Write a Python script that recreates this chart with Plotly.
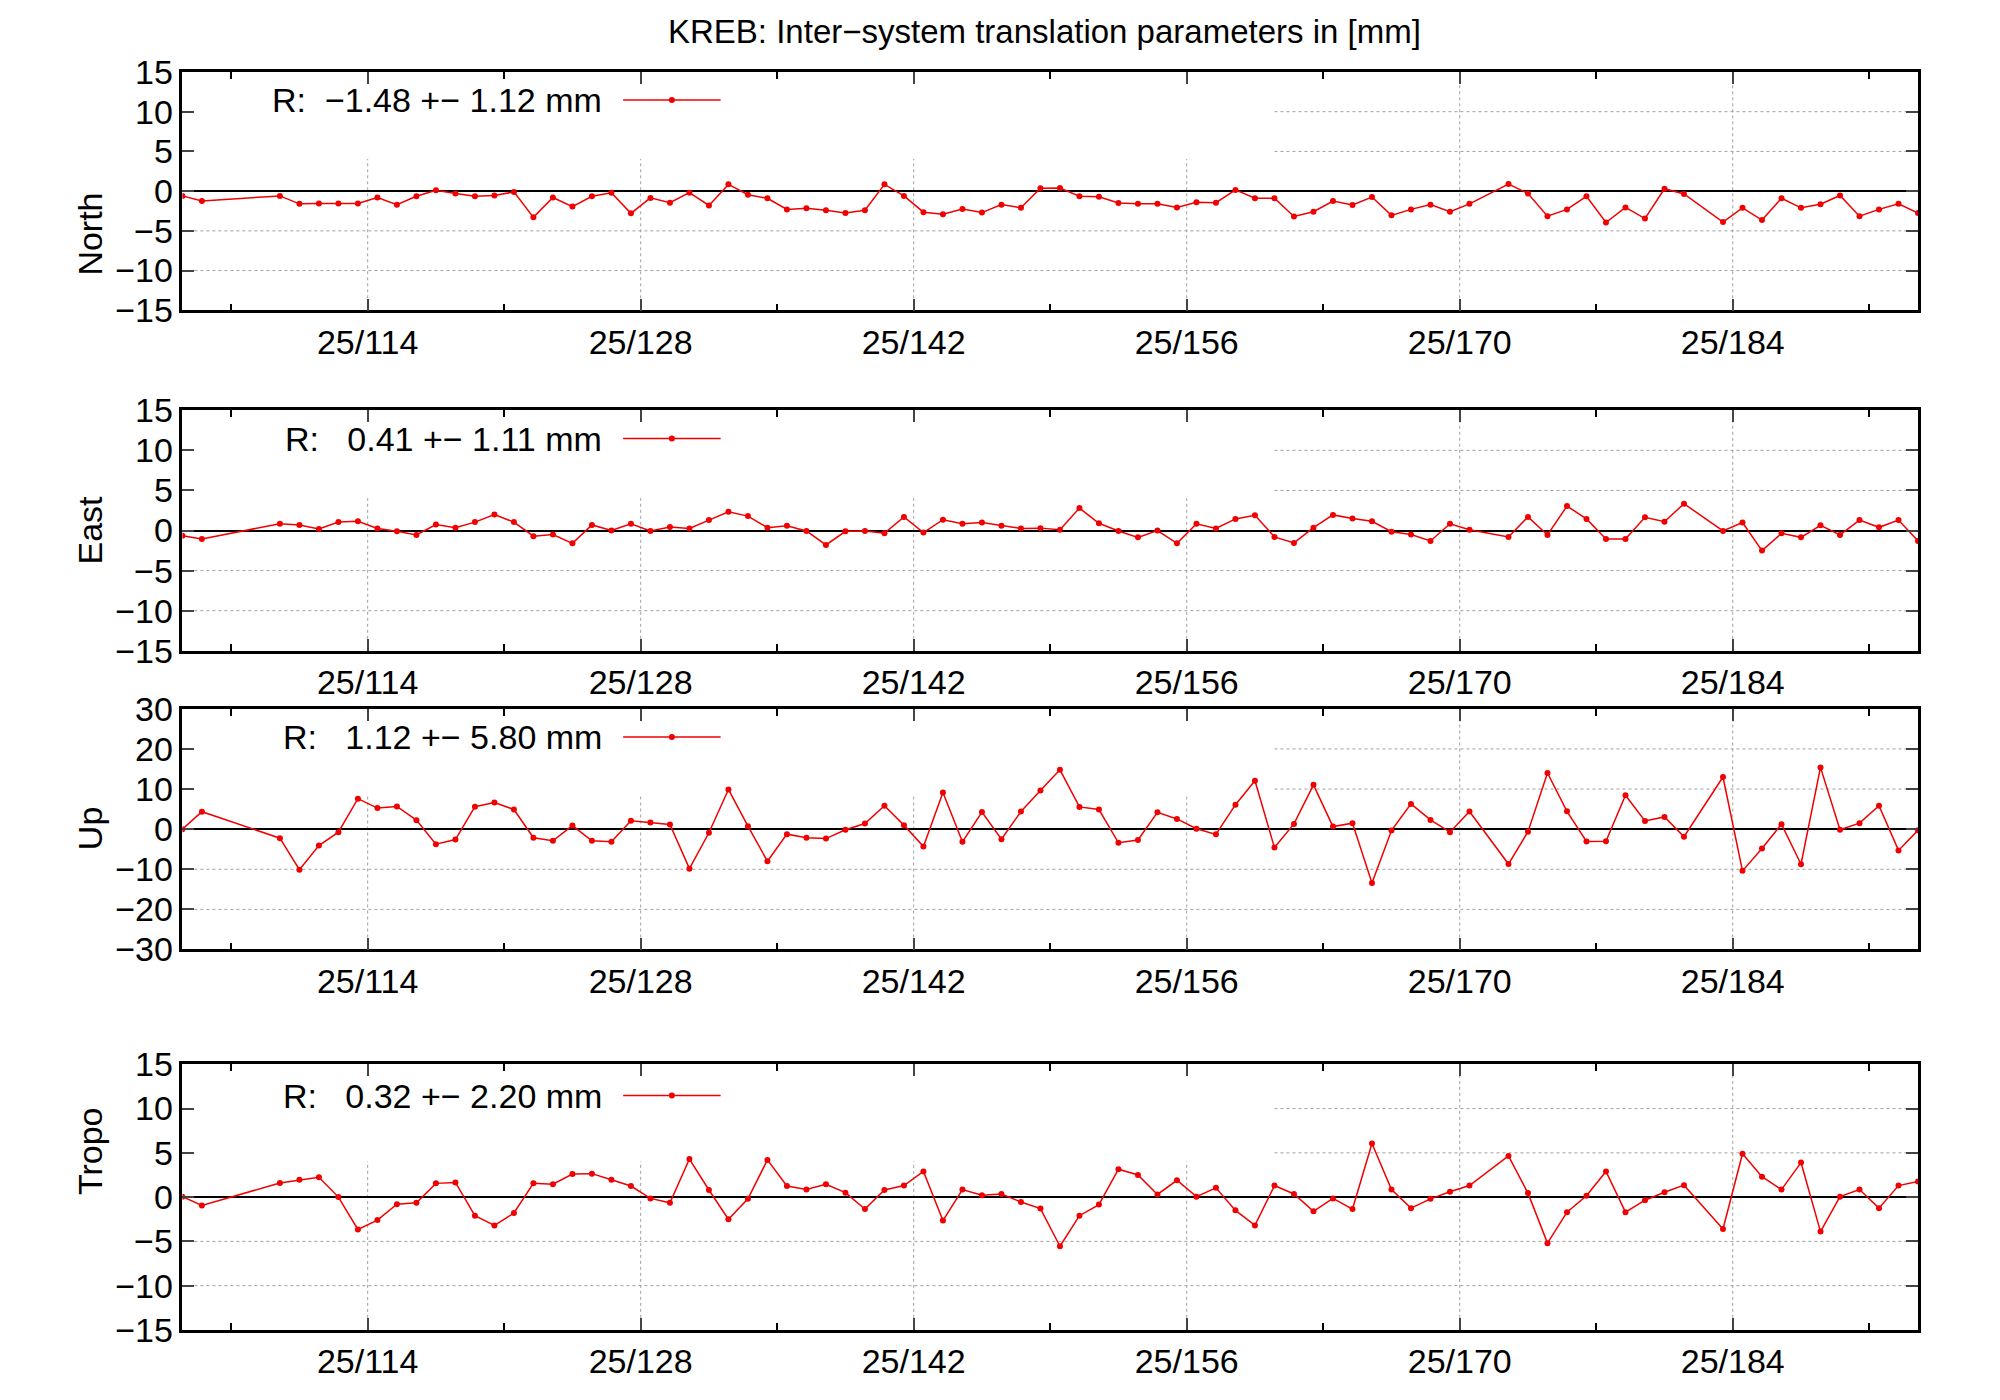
import plotly.graph_objects as go

# days of year (observation epochs at noon)
days = [104.5, 105.5] + [d + 0.5 for d in range(109, 171)] + \
       [d + 0.5 for d in range(172, 182)] + [d + 0.5 for d in range(183, 194)]

north = [-0.6, -1.25,
         -0.6, -1.6, -1.55, -1.55, -1.55, -0.8, -1.7, -0.65, 0.1, -0.3, -0.65, -0.55, -0.1,
         -3.3, -0.8, -1.95, -0.65, -0.2, -2.8, -0.85, -1.45, -0.2, -1.8, 0.85, -0.45, -0.9,
         -2.3, -2.15, -2.4, -2.75, -2.4, 0.85, -0.6, -2.65, -2.9, -2.25, -2.7, -1.7, -2.1,
         0.35, 0.4, -0.65, -0.7, -1.5, -1.6, -1.6, -2.05, -1.4, -1.45, 0.15, -0.9, -0.9,
         -3.2, -2.6, -1.25, -1.75, -0.75, -3.05, -2.3, -1.7, -2.6, -1.6,
         0.9, -0.3, -3.15, -2.3, -0.65, -3.95, -2.05, -3.45, 0.3, -0.35,
         -3.9, -2.1, -3.65, -0.9, -2.1, -1.65, -0.55, -3.15, -2.3, -1.6, -2.75]

east = [-0.65, -1.05,
        0.85, 0.7, 0.2, 1.05, 1.15, 0.25, -0.1, -0.55, 0.75, 0.35, 1.05, 2.0, 1.05,
        -0.7, -0.5, -1.6, 0.7, 0.0, 0.85, -0.05, 0.45, 0.25, 1.3, 2.35, 1.8, 0.35,
        0.6, -0.05, -1.8, -0.1, -0.05, -0.35, 1.7, -0.25, 1.35, 0.85, 1.0, 0.6, 0.25,
        0.3, 0.1, 2.8, 0.9, -0.05, -0.85, 0.0, -1.6, 0.85, 0.25, 1.45, 1.9, -0.8,
        -1.55, 0.35, 1.95, 1.5, 1.15, -0.15, -0.5, -1.3, 0.85, 0.1,
        -0.8, 1.7, -0.55, 3.05, 1.45, -1.05, -1.05, 1.65, 1.1, 3.35,
        -0.05, 1.0, -2.5, -0.35, -0.85, 0.65, -0.55, 1.3, 0.4, 1.3, -1.3]

up = [0.0, 4.35,
      -2.25, -10.1, -4.1, -0.75, 7.6, 5.25, 5.65, 2.25, -3.75, -2.6, 5.6, 6.65, 4.9,
      -2.15, -2.9, 0.9, -2.9, -3.15, 2.1, 1.65, 1.15, -9.85, -0.9, 9.9, 0.75, -8.0,
      -1.25, -2.15, -2.35, -0.15, 1.4, 5.85, 1.0, -4.35, 9.15, -3.15, 4.25, -2.5, 4.4,
      9.65, 14.8, 5.55, 4.9, -3.4, -2.7, 4.2, 2.55, 0.1, -1.3, 6.1, 12.05, -4.6,
      1.3, 11.05, 0.65, 1.5, -13.45, -0.35, 6.3, 2.3, -0.75, 4.4,
      -8.7, -0.65, 14.0, 4.45, -3.05, -3.0, 8.45, 2.05, 3.05, -1.9,
      13.0, -10.4, -4.8, 1.25, -8.75, 15.4, -0.15, 1.5, 5.85, -5.3, -0.3]

tropo = [0.05, -0.95,
         1.6, 1.95, 2.25, 0.0, -3.65, -2.6, -0.8, -0.65, 1.55, 1.65, -2.1, -3.2, -1.8,
         1.55, 1.45, 2.6, 2.65, 1.95, 1.25, -0.15, -0.65, 4.3, 0.8, -2.5, -0.2, 4.2,
         1.25, 0.85, 1.45, 0.5, -1.35, 0.8, 1.3, 2.9, -2.65, 0.85, 0.2, 0.35, -0.55,
         -1.3, -5.55, -2.1, -0.85, 3.15, 2.5, 0.3, 1.9, 0.05, 1.05, -1.5, -3.2, 1.3,
         0.35, -1.6, -0.15, -1.35, 6.05, 0.85, -1.25, -0.2, 0.6, 1.3,
         4.65, 0.45, -5.2, -1.7, 0.15, 2.9, -1.7, -0.35, 0.55, 1.35,
         -3.6, 4.9, 2.3, 0.85, 3.9, -3.9, 0.05, 0.85, -1.25, 1.3, 1.75]

names = ["North", "East", "Up", "Tropo"]
series = [north, east, up, tropo]
stats = ["R:  \u22121.48 +\u2212 1.12 mm", "R:   0.41 +\u2212 1.11 mm",
         "R:   1.12 +\u2212 5.80 mm", "R:   0.32 +\u2212 2.20 mm"]
yranges = [15, 15, 30, 15]
ysteps = [5, 5, 10, 5]

major_days = [114, 128, 142, 156, 170, 184]
minor_days = [107, 121, 135, 149, 163, 177, 191]
tick_text = [f"25/{d}" for d in major_days]

X0, X1 = 104.5, 193.5
domains = [(0.792, 0.967), (0.542, 0.7186), (0.3227, 0.4994), (0.0434, 0.2384)]
FONT = "Liberation Sans, Arial, sans-serif"
RED = "#f00000"
FS = 34

fig = go.Figure()
shapes, annots = [], []
grid = dict(color="#a0a0a0", width=1, dash="dot")

for i, (name, vals) in enumerate(zip(names, series)):
    n = "" if i == 0 else str(i + 1)
    xa, ya = "x" + n, "y" + n
    r, st = yranges[i], ysteps[i]
    fig.add_trace(go.Scatter(x=days, y=vals, mode="lines+markers", xaxis=xa, yaxis=ya,
                             line=dict(color=RED, width=1.5), marker=dict(color=RED, size=6),
                             showlegend=False))
    lo, hi = domains[i]
    fig.layout["xaxis" + n] = dict(domain=[0.0872, 0.955], range=[X0, X1], anchor=ya,
                                   tickvals=major_days, ticktext=tick_text, ticks="inside",
                                   ticklen=12, tickwidth=1.5, showgrid=False, zeroline=False,
                                   mirror="ticks", showline=True, linecolor="black", linewidth=2.5,
                                   minor=dict(tickvals=minor_days, ticklen=7, ticks="inside",
                                              tickcolor="black", showgrid=False),
                                   tickfont=dict(size=FS, family=FONT, color="black"))
    fig.layout["yaxis" + n] = dict(domain=[lo, hi], range=[-r, r], anchor=xa,
                                   tickvals=list(range(-r, r + 1, st)), ticks="inside",
                                   ticklen=12, tickwidth=1.5, showgrid=False, zeroline=True,
                                   zerolinecolor="black", zerolinewidth=2,
                                   mirror="ticks", showline=True, linecolor="black", linewidth=2.5,
                                   tickfont=dict(size=FS, family=FONT, color="black"))
    # grid, hidden behind the key box in the upper left
    key_x = 160.5
    key_y = r * 0.27
    for d in major_days:
        top = r if d > key_x else key_y
        shapes.append(dict(type="line", xref=xa, yref=ya, x0=d, x1=d, y0=-r, y1=top,
                           line=grid, layer="below"))
    for v in range(st, r, st):
        shapes.append(dict(type="line", xref=xa, yref=ya, x0=X0, x1=X1, y0=-v, y1=-v,
                           line=grid, layer="below"))
        shapes.append(dict(type="line", xref=xa, yref=ya, x0=key_x, x1=X1, y0=v, y1=v,
                           line=grid, layer="below"))
    # key
    ky = r - r * 0.235
    annots.append(dict(xref=xa, yref=ya, x=126.1, y=ky, text=stats[i], showarrow=False,
                       xanchor="right", yanchor="middle",
                       font=dict(size=FS, family=FONT, color="black")))
    shapes.append(dict(type="line", xref=xa, yref=ya, x0=127.1, x1=132.1, y0=ky, y1=ky,
                       line=dict(color=RED, width=1.5)))
    fig.add_trace(go.Scatter(x=[129.6], y=[ky], mode="markers", xaxis=xa, yaxis=ya,
                             marker=dict(color=RED, size=6), showlegend=False, hoverinfo="skip"))
    annots.append(dict(xref="paper", yref="paper", x=0.0305, y=(lo + hi) / 2, text=name,
                       textangle=-90, showarrow=False,
                       font=dict(size=FS, family=FONT, color="black")))

annots.append(dict(xref="paper", yref="paper", x=0.518, y=0.997, yanchor="middle",
                   text="KREB: Inter\u2212system translation parameters in [mm]",
                   showarrow=False, font=dict(size=33, family=FONT, color="black")))

fig.update_layout(width=2000, height=1400, margin=dict(l=0, r=0, t=0, b=0),
                  paper_bgcolor="white", plot_bgcolor="white",
                  shapes=shapes, annotations=annots)

fig.write_html("out.html")
